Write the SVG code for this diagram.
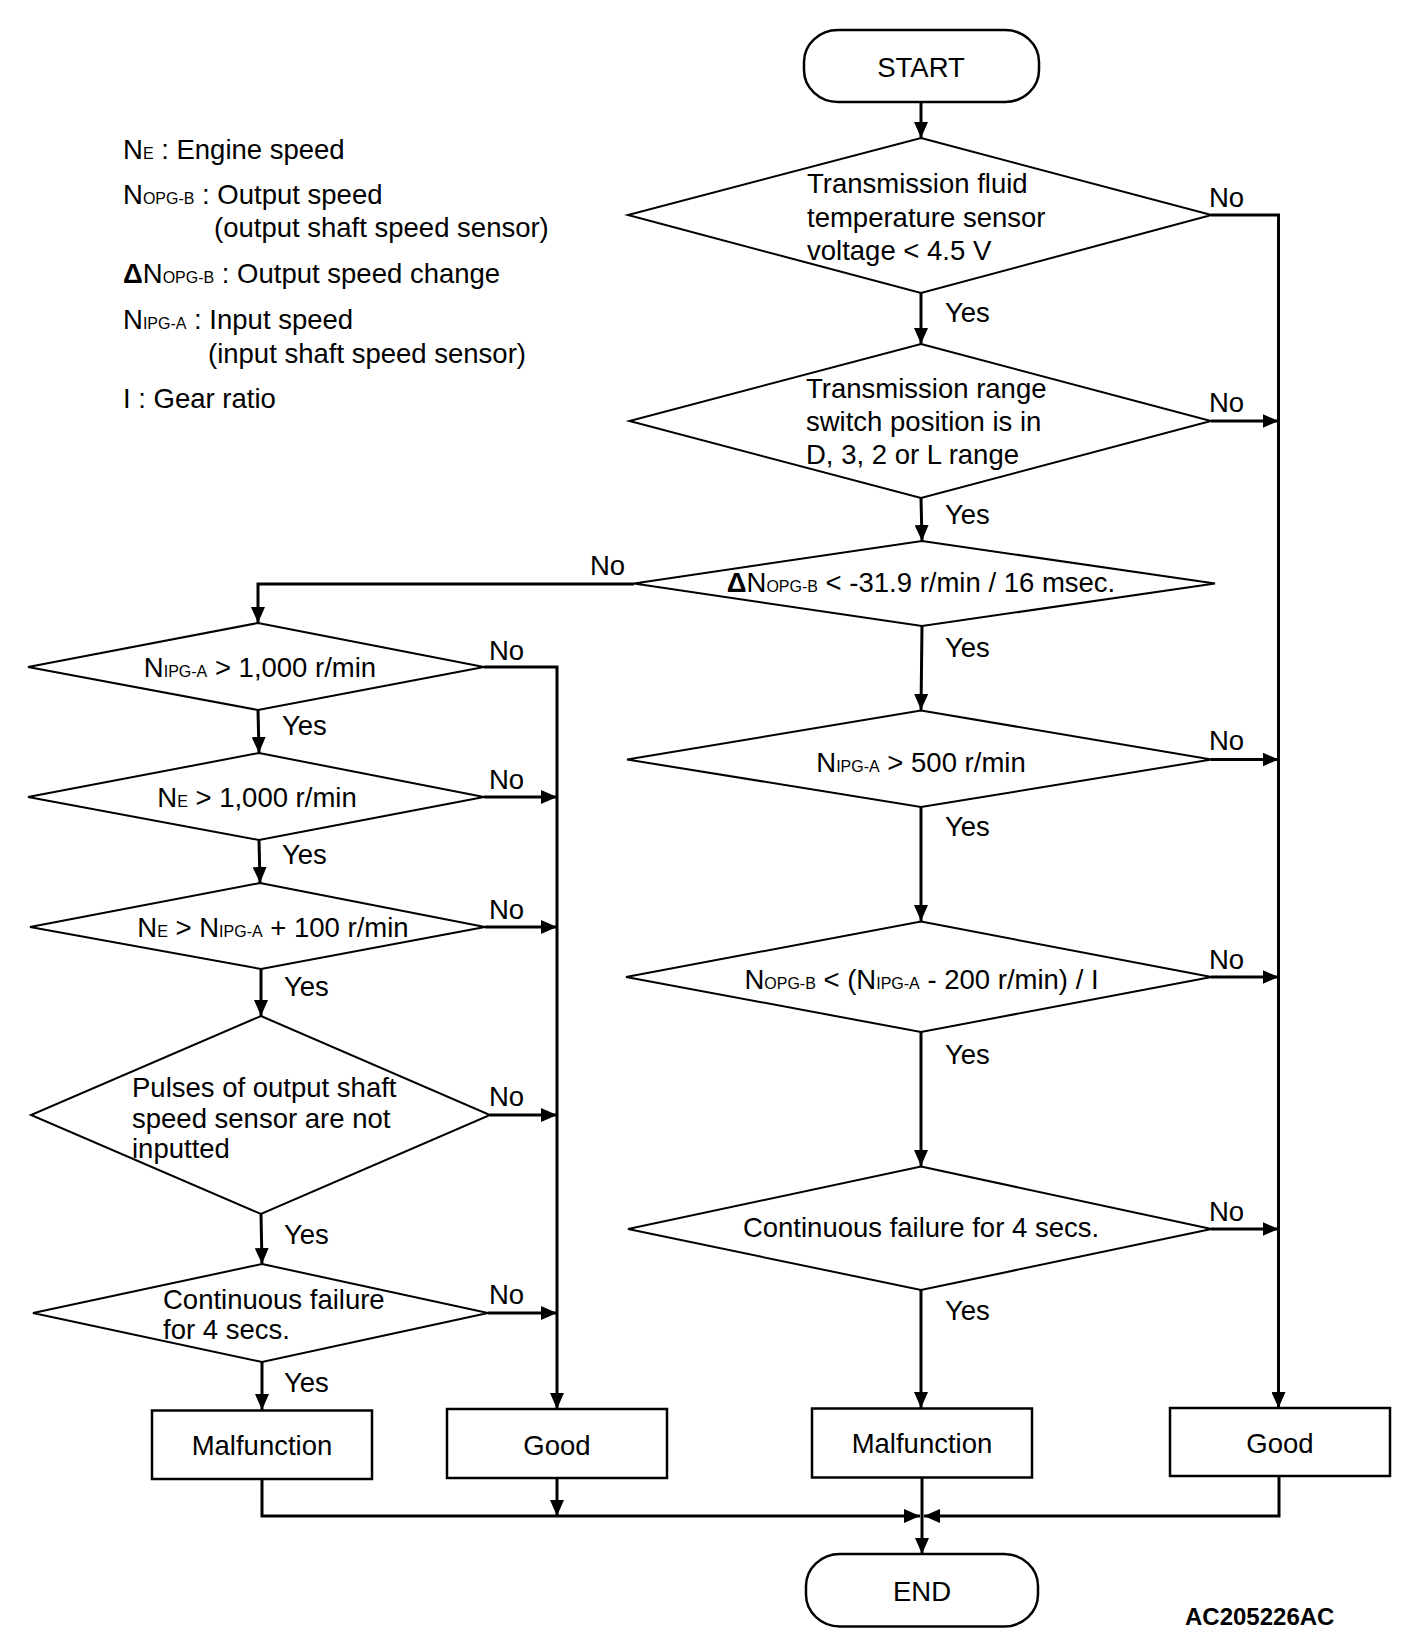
<svg xmlns="http://www.w3.org/2000/svg" width="1408" height="1644" viewBox="0 0 1408 1644">
<defs>
<marker id="ah" markerUnits="userSpaceOnUse" markerWidth="16" markerHeight="14" refX="16" refY="7" orient="auto"><path d="M0,0 L16,7 L0,14 z" fill="#000"/></marker>
</defs>
<style>
text{font-family:"Liberation Sans",Arial,Helvetica,sans-serif;font-size:27.5px;fill:#000}
.s{font-size:16px}
.dia{fill:#fff;stroke:#000;stroke-width:2}
.box{fill:#fff;stroke:#000;stroke-width:2.5}
.ln{fill:none;stroke:#000;stroke-width:3}
.ar{marker-end:url(#ah)}
.c{text-anchor:middle}
.b{font-weight:bold}
</style>
<rect width="1408" height="1644" fill="#fff"/>

<g id="legend">
<text x="123" y="159">N<tspan class="s">E</tspan> : Engine speed</text>
<text x="123" y="204">N<tspan class="s">OPG-B</tspan> : Output speed</text>
<text x="214" y="237">(output shaft speed sensor)</text>
<text x="123" y="283"><tspan class="b">Δ</tspan>N<tspan class="s">OPG-B</tspan> : Output speed change</text>
<text x="123" y="329">N<tspan class="s">IPG-A</tspan> : Input speed</text>
<text x="208" y="363">(input shaft speed sensor)</text>
<text x="123" y="408">I : Gear ratio</text>
</g>

<g id="connectors">
<line class="ln ar" x1="921" y1="102" x2="921" y2="138"/>
<line class="ln ar" x1="921" y1="293" x2="921" y2="344"/>
<line class="ln ar" x1="921" y1="498" x2="922" y2="541"/>
<line class="ln ar" x1="922" y1="626" x2="921" y2="710"/>
<line class="ln ar" x1="921" y1="807" x2="921" y2="921"/>
<line class="ln ar" x1="921" y1="1032" x2="921" y2="1166"/>
<line class="ln ar" x1="921" y1="1290" x2="921" y2="1408"/>
<polyline class="ln ar" points="1211,215 1278.5,215 1278.5,1408"/>
<line class="ln ar" x1="1211" y1="421" x2="1278.5" y2="421"/>
<line class="ln ar" x1="1211" y1="759.5" x2="1278.5" y2="759.5"/>
<line class="ln ar" x1="1211" y1="977" x2="1278.5" y2="977"/>
<line class="ln ar" x1="1211" y1="1229" x2="1278.5" y2="1229"/>
<polyline class="ln ar" points="634,584 258,584 258,623"/>
<line class="ln ar" x1="258" y1="710" x2="259" y2="753"/>
<line class="ln ar" x1="259" y1="840" x2="260" y2="883"/>
<line class="ln ar" x1="261" y1="969" x2="261" y2="1016"/>
<line class="ln ar" x1="261" y1="1214" x2="262" y2="1264"/>
<line class="ln ar" x1="262" y1="1362" x2="262" y2="1410"/>
<polyline class="ln ar" points="484,667 557,667 557,1409"/>
<line class="ln ar" x1="484" y1="797" x2="557" y2="797"/>
<line class="ln ar" x1="485" y1="927" x2="557" y2="927"/>
<line class="ln ar" x1="490" y1="1115" x2="557" y2="1115"/>
<line class="ln ar" x1="488" y1="1313" x2="557" y2="1313"/>
<line class="ln ar" x1="557" y1="1478" x2="557" y2="1516"/>
<polyline class="ln ar" points="262,1479 262,1516 920,1516"/>
<polyline class="ln ar" points="1279,1476 1279,1516 924,1516"/>
<line class="ln ar" x1="922" y1="1478" x2="922" y2="1554"/>
</g>

<g id="labels">
<text x="1209" y="207">No</text>
<text x="1209" y="412">No</text>
<text x="1209" y="750">No</text>
<text x="1209" y="969">No</text>
<text x="1209" y="1221">No</text>
<text x="590" y="575">No</text>
<text x="489" y="660">No</text>
<text x="489" y="789">No</text>
<text x="489" y="919">No</text>
<text x="489" y="1106">No</text>
<text x="489" y="1304">No</text>
<text x="945" y="322">Yes</text>
<text x="945" y="524">Yes</text>
<text x="945" y="657">Yes</text>
<text x="945" y="836">Yes</text>
<text x="945" y="1064">Yes</text>
<text x="945" y="1320">Yes</text>
<text x="282" y="735">Yes</text>
<text x="282" y="864">Yes</text>
<text x="284" y="996">Yes</text>
<text x="284" y="1244">Yes</text>
<text x="284" y="1392">Yes</text>
</g>

<g id="start">
<rect x="804" y="30" width="235" height="72" rx="34" ry="32" class="box"/>
<text x="921" y="77" class="c">START</text>
</g>

<g id="d-fluid-temp">
<polygon class="dia" points="921,138 1211.5,215 921,293 628,215"/>
<text x="807" y="193">Transmission fluid</text>
<text x="807" y="226.5">temperature sensor</text>
<text x="807" y="260">voltage &lt; 4.5 V</text>
</g>

<g id="d-range">
<polygon class="dia" points="921,344 1211,421 921,498 629.5,421"/>
<text x="806" y="398">Transmission range</text>
<text x="806" y="431">switch position is in</text>
<text x="806" y="464">D, 3, 2 or L range</text>
</g>

<g id="d-delta">
<polygon class="dia" points="922,541 1215,583.5 922,626 634,583.5"/>
<text x="921" y="592" class="c"><tspan class="b">Δ</tspan>N<tspan class="s">OPG-B</tspan> &lt; -31.9 r/min / 16 msec.</text>
</g>

<g id="d-nipg500">
<polygon class="dia" points="921,710.5 1211.5,759.5 921,807 627,759.5"/>
<text x="921" y="772" class="c">N<tspan class="s">IPG-A</tspan> &gt; 500 r/min</text>
</g>

<g id="d-nopg">
<polygon class="dia" points="921,921.5 1211.5,977 921,1032 626,977"/>
<text x="921.5" y="989" class="c">N<tspan class="s">OPG-B</tspan> &lt; (N<tspan class="s">IPG-A</tspan> - 200 r/min) / I</text>
</g>

<g id="d-cont-right">
<polygon class="dia" points="921,1166.5 1211.5,1229 921,1290 628,1229"/>
<text x="921" y="1237" class="c">Continuous failure for 4 secs.</text>
</g>

<g id="malf-right">
<rect x="812" y="1408.5" width="220" height="69" class="box"/>
<text x="922" y="1453" class="c">Malfunction</text>
</g>

<g id="good-right">
<rect x="1170" y="1408" width="220" height="68" class="box"/>
<text x="1280" y="1453" class="c">Good</text>
</g>

<g id="d-nipg1000">
<polygon class="dia" points="258,623 484,667 258,710 28,667"/>
<text x="260" y="677" class="c">N<tspan class="s">IPG-A</tspan> &gt; 1,000 r/min</text>
</g>

<g id="d-ne1000">
<polygon class="dia" points="259,753 484,797 259,840 28,797"/>
<text x="257" y="807" class="c">N<tspan class="s">E</tspan> &gt; 1,000 r/min</text>
</g>

<g id="d-ne-nipg">
<polygon class="dia" points="260,883 485,927 261,969 30,927"/>
<text x="273" y="937" class="c">N<tspan class="s">E</tspan> &gt; N<tspan class="s">IPG-A</tspan> + 100 r/min</text>
</g>

<g id="d-pulses">
<polygon class="dia" points="261,1016 490,1115 261,1214 31,1115"/>
<text x="132" y="1097">Pulses of output shaft</text>
<text x="132" y="1128">speed sensor are not</text>
<text x="132" y="1158">inputted</text>
</g>

<g id="d-cont-left">
<polygon class="dia" points="262,1264 488,1313 262,1362 33,1313"/>
<text x="163" y="1309">Continuous failure</text>
<text x="163" y="1339">for 4 secs.</text>
</g>

<g id="malf-left">
<rect x="152" y="1410.5" width="220" height="68.5" class="box"/>
<text x="262" y="1455" class="c">Malfunction</text>
</g>

<g id="good-left">
<rect x="447" y="1409" width="220" height="69" class="box"/>
<text x="557" y="1455" class="c">Good</text>
</g>

<g id="end">
<rect x="806" y="1554" width="232" height="72.5" rx="34" ry="32" class="box"/>
<text x="922" y="1601" class="c">END</text>
</g>

<text x="1185" y="1625" class="b" style="font-size:24px">AC205226AC</text>
</svg>
